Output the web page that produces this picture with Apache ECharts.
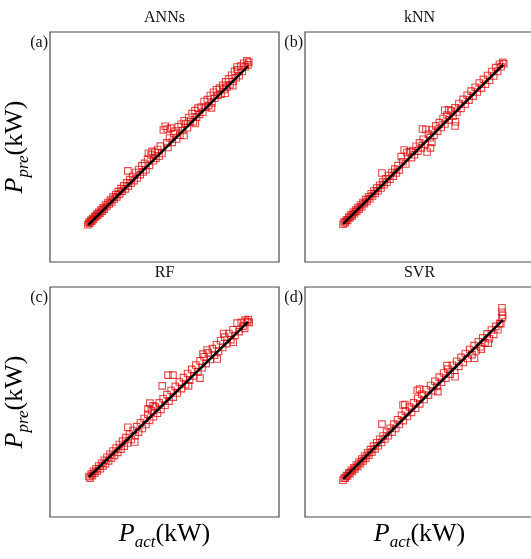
<!DOCTYPE html>
<html>
<head>
<meta charset="utf-8">
<script src="https://cdn.jsdelivr.net/npm/echarts@6/dist/echarts.min.js"></script>
<style>
  html, body { margin: 0; padding: 0; background: #fff; }
  #chart { width: 531px; height: 559px; }
</style>
</head>
<body>
<div id="chart"></div>
<script>
// panel titles and tags
const models = ['ANNs', 'kNN', 'RF', 'SVR']
const tags = ['(a)', '(b)', '(c)', '(d)']

// [P_act, P_pre] pairs (relative units, axis 0-100)
const annsData = [
  [16.5, 16.2], [17.0, 17.3], [17.4, 16.8], [17.8, 18.1], [18.2, 17.7], [18.6, 18.9], [19.0, 18.5], [19.5, 19.9],
  [20.0, 19.6], [20.4, 20.8], [20.9, 20.3], [21.3, 21.6], [21.8, 21.2], [22.3, 22.7], [22.8, 22.1], [23.2, 23.6],
  [23.7, 23.0], [24.2, 24.8], [24.8, 24.1], [25.3, 25.9], [25.9, 25.2], [26.4, 26.9], [27.0, 26.1], [27.5, 28.2],
  [28.1, 27.4], [28.7, 29.3], [29.2, 28.3], [29.8, 30.6], [30.4, 29.5], [31.0, 31.9], [31.6, 30.8], [32.2, 33.1],
  [32.9, 31.8], [33.5, 34.4], [34.0, 39.6], [34.2, 33.0], [34.9, 35.8], [35.5, 34.3], [36.1, 37.2], [36.8, 35.4],
  [37.5, 38.9], [38.1, 36.5], [38.8, 40.2], [39.4, 38.0], [40.1, 41.8], [40.7, 39.2], [41.3, 42.9], [41.9, 40.1],
  [42.6, 44.8], [43.0, 47.3], [43.4, 42.0], [44.1, 46.5], [44.6, 48.1], [45.2, 44.0], [45.8, 47.6], [46.3, 45.1],
  [47.0, 48.9], [47.6, 46.0], [48.2, 50.4], [48.9, 47.2], [49.5, 57.4], [50.3, 59.0], [51.2, 57.8], [51.0, 51.8],
  [51.5, 49.8], [52.2, 53.9], [52.8, 58.2], [53.4, 52.0], [54.0, 55.8], [54.6, 56.9], [55.3, 53.5], [56.0, 58.8],
  [56.7, 55.1], [57.3, 59.9], [58.0, 57.2], [58.5, 55.0], [58.6, 61.4], [59.3, 60.2], [60.0, 58.4], [60.6, 62.8],
  [61.3, 61.0], [62.0, 64.5], [62.6, 60.9], [63.3, 65.8], [63.5, 60.2], [64.0, 63.0], [64.6, 66.9], [65.3, 64.2],
  [66.0, 67.4], [66.7, 65.1], [67.3, 69.8], [68.0, 67.3], [68.7, 70.6], [69.3, 68.0], [70.0, 72.4], [70.5, 67.0],
  [70.7, 69.1], [71.4, 73.8], [72.0, 71.2], [72.7, 74.9], [73.4, 72.5], [74.0, 75.6], [74.7, 73.0], [75.4, 76.8],
  [76.0, 75.0], [76.5, 73.4], [76.7, 78.3], [77.3, 76.1], [78.0, 79.6], [78.6, 77.0], [79.3, 81.2], [79.8, 76.6],
  [80.0, 78.5], [80.6, 82.9], [81.3, 80.1], [81.6, 84.8], [82.0, 83.6], [82.6, 81.0], [83.3, 85.2], [84.0, 82.8],
  [84.6, 86.4], [85.3, 84.9], [86.0, 87.5], [86.5, 85.7], [86.8, 86.9]
]
const knnData = [
  [16.6, 16.4], [17.1, 17.5], [17.6, 17.0], [18.1, 18.4], [18.6, 18.1], [19.1, 19.5], [19.6, 19.1], [20.1, 20.5],
  [20.6, 20.0], [21.1, 21.6], [21.6, 21.0], [22.1, 22.6], [22.6, 22.0], [23.1, 23.7], [23.7, 23.0], [24.2, 24.8],
  [24.8, 24.0], [25.3, 25.9], [25.9, 25.3], [26.5, 27.1], [27.1, 26.3], [27.7, 28.4], [28.3, 27.5], [28.9, 29.7],
  [29.5, 28.7], [30.1, 30.9], [30.7, 29.8], [31.3, 32.2], [31.9, 31.0], [32.6, 33.4], [33.2, 32.2], [33.6, 38.7],
  [33.9, 34.8], [34.5, 33.6], [35.2, 36.2], [35.8, 34.7], [36.5, 37.6], [37.1, 36.0], [37.8, 38.9], [38.5, 37.3],
  [39.2, 40.4], [39.9, 38.7], [40.6, 41.9], [41.2, 40.0], [42.0, 45.8], [42.7, 43.6], [43.3, 48.7], [44.5, 47.6],
  [44.0, 42.6], [45.7, 47.9], [46.5, 45.4], [47.0, 48.5], [47.8, 46.6], [48.5, 50.3], [49.3, 48.2], [50.0, 51.8],
  [50.8, 49.6], [51.3, 57.8], [52.8, 57.6], [51.6, 53.4], [52.4, 51.2], [53.3, 47.8], [54.8, 49.6], [55.4, 52.0],
  [53.9, 55.6], [54.7, 54.0], [55.5, 57.4], [56.3, 55.1], [57.1, 59.2], [57.9, 56.9], [58.7, 60.6], [59.5, 58.5],
  [60.3, 62.4], [61.0, 66.0], [62.7, 66.2], [61.1, 60.0], [62.0, 63.9], [62.9, 61.8], [63.8, 65.7], [64.6, 63.4],
  [65.5, 59.1], [65.7, 61.0], [65.5, 67.0], [66.3, 65.2], [67.2, 68.9], [68.1, 66.8], [69.0, 70.7], [69.9, 68.6],
  [70.8, 72.5], [71.6, 70.4], [72.5, 74.3], [73.4, 72.1], [74.3, 76.0], [75.2, 73.9], [76.1, 77.8], [77.0, 75.6],
  [77.9, 79.4], [78.8, 77.3], [79.7, 81.1], [80.6, 79.0], [81.5, 82.8], [82.4, 80.9], [83.3, 84.5], [84.1, 82.8],
  [84.9, 86.0], [85.6, 84.9], [86.3, 86.8], [86.8, 86.2]
]
const rfData = [
  [17.0, 17.6], [17.5, 16.9], [18.0, 18.7], [18.5, 18.0], [19.0, 19.9], [19.6, 19.0], [20.1, 21.0], [20.7, 20.0],
  [21.3, 22.2], [21.9, 21.0], [22.5, 23.4], [23.1, 22.1], [23.7, 24.7], [24.3, 23.2], [24.9, 26.0], [25.6, 24.4],
  [26.2, 27.3], [26.9, 25.6], [27.5, 28.7], [28.2, 26.8], [28.9, 30.0], [29.6, 28.1], [30.3, 31.5], [31.0, 29.5],
  [31.7, 33.0], [32.4, 30.8], [33.1, 34.5], [34.0, 39.0], [33.9, 32.2], [34.7, 36.0], [35.5, 33.7], [36.3, 37.6],
  [37.0, 32.6], [37.1, 35.3], [37.9, 39.3], [38.7, 36.9], [39.5, 41.0], [40.3, 38.5], [41.1, 42.8], [41.9, 40.2],
  [42.8, 47.0], [43.6, 49.5], [45.0, 48.3], [42.7, 44.6], [43.5, 42.0], [44.3, 46.2], [45.2, 43.6], [46.0, 47.9],
  [46.9, 45.1], [47.7, 49.6], [48.5, 46.8], [49.0, 57.0], [49.4, 51.4], [50.2, 48.6], [51.5, 61.7], [53.7, 61.7],
  [51.1, 53.2], [52.0, 50.4], [52.9, 55.0], [53.8, 52.1], [54.7, 56.8], [55.6, 53.9], [56.5, 58.7], [57.4, 55.8],
  [58.3, 60.6], [59.2, 57.6], [60.1, 62.4], [60.5, 57.0], [61.0, 59.5], [61.9, 64.2], [62.8, 61.3], [63.7, 66.1],
  [64.6, 63.1], [65.5, 60.4], [65.5, 67.9], [66.4, 64.9], [66.8, 70.8], [67.3, 69.7], [68.6, 72.6], [68.2, 66.7],
  [69.1, 71.4], [70.0, 68.5], [70.9, 73.2], [71.8, 70.3], [72.7, 74.9], [73.0, 68.7], [73.6, 72.0], [74.5, 76.6],
  [75.4, 73.7], [75.8, 79.8], [76.3, 78.2], [77.2, 75.4], [78.1, 79.8], [79.0, 77.1], [80.0, 76.0], [79.9, 81.4],
  [80.8, 78.9], [81.7, 84.3], [82.6, 80.6], [83.5, 84.6], [84.3, 83.0], [85.0, 82.0], [85.2, 85.6], [86.0, 85.0],
  [86.6, 85.8], [87.0, 84.6]
]
const svrData = [
  [16.6, 16.0], [17.1, 16.9], [17.6, 16.9], [18.1, 18.0], [18.6, 17.8], [19.1, 19.2], [19.6, 18.8], [20.2, 20.3],
  [20.7, 19.8], [21.3, 21.4], [21.8, 20.9], [22.4, 22.6], [23.0, 22.0], [23.6, 23.9], [24.2, 23.2], [24.8, 25.2],
  [25.4, 24.4], [26.0, 26.5], [26.6, 25.6], [27.3, 27.9], [27.9, 26.9], [28.6, 29.3], [29.2, 28.2], [29.9, 30.8],
  [30.6, 29.6], [31.3, 32.3], [32.0, 31.0], [32.7, 33.8], [33.4, 32.4], [33.6, 40.4], [34.1, 35.2], [34.9, 33.9],
  [35.6, 36.9], [36.4, 35.3], [37.2, 38.6], [38.0, 36.9], [38.8, 40.4], [39.6, 38.5], [40.4, 42.3], [41.2, 40.2],
  [42.1, 44.2], [42.8, 48.7], [43.6, 48.9], [42.9, 41.9], [43.8, 46.0], [44.7, 43.7], [45.6, 47.8], [46.5, 45.5],
  [47.4, 49.6], [48.3, 47.3], [49.0, 55.0], [50.0, 55.6], [49.2, 51.5], [50.1, 49.2], [51.0, 53.4], [52.0, 51.1],
  [52.9, 55.3], [53.9, 53.0], [54.8, 57.2], [55.8, 54.9], [56.7, 59.0], [57.7, 56.8], [58.0, 54.5], [58.6, 60.8],
  [59.6, 58.6], [60.5, 62.6], [61.5, 60.4], [62.0, 65.8], [62.4, 64.3], [63.4, 62.1], [64.3, 66.0], [65.5, 61.0],
  [65.3, 63.8], [66.2, 67.7], [67.2, 65.5], [68.1, 69.4], [69.1, 67.2], [70.0, 71.1], [71.0, 68.9], [71.9, 72.8],
  [72.9, 70.6], [74.0, 69.0], [73.8, 74.5], [74.8, 72.3], [75.7, 76.2], [76.7, 74.0], [77.0, 73.0], [77.6, 77.9],
  [78.6, 75.7], [79.5, 79.6], [80.0, 75.6], [80.5, 77.5], [81.4, 81.3], [82.4, 79.4], [83.3, 82.9], [84.2, 81.4],
  [85.0, 84.2], [85.5, 84.0], [86.0, 86.5], [86.0, 89.0], [86.0, 91.0], [86.3, 87.6]
]
// fitted lines drawn over each panel, [P_act, P_pre] end points
const fitA = [[16.6, 16.0], [86.5, 85.2]]
const fitB = [[16.6, 16.5], [86.5, 85.8]]
const fitC = [[17.0, 17.4], [86.5, 84.8]]
const fitD = [[16.6, 16.5], [86.3, 85.6]]

const allData = [annsData, knnData, rfData, svrData]
const fits = [fitA, fitB, fitC, fitD]

const serif = '"Liberation Serif", "DejaVu Serif", serif'
const boxes = [
  { left: 50, top: 32 },
  { left: 305, top: 32 },
  { left: 50, top: 287 },
  { left: 305, top: 287 }
]

const chart = echarts.init(document.getElementById('chart'))

// right column runs past the window edge like the reference, so its right side is cut off
const grid = boxes.map((b, i) => ({
  left: b.left, top: b.top, width: i % 2 ? 235 : 229, height: 230,
  outerBoundsMode: 'none', containLabel: false,
  show: true, borderColor: '#4a4a4a', borderWidth: 1.2, backgroundColor: '#fff'
}))
const axisBase = { type: 'value', show: false, splitLine: { show: false } }
const xAxis = boxes.map((b, i) => Object.assign({ gridIndex: i, min: 0, max: i % 2 ? 102.6 : 100 }, axisBase))
const yAxis = boxes.map((b, i) => Object.assign({ gridIndex: i, min: 0, max: 100 }, axisBase))

const series = []
allData.forEach((d, i) => {
  series.push({
    type: 'scatter', xAxisIndex: i, yAxisIndex: i, data: d,
    symbol: 'rect', symbolSize: 6.5,
    itemStyle: { color: 'rgba(0,0,0,0)', borderColor: 'rgba(220,0,0,0.9)', borderWidth: 1.1 },
    silent: true, z: 2
  })
  series.push({
    type: 'line', xAxisIndex: i, yAxisIndex: i, data: fits[i],
    symbol: 'none', lineStyle: { color: '#000', width: 2.5 }, z: 3, silent: true
  })
})

const graphic = []
boxes.forEach((b, i) => {
  graphic.push({
    type: 'text', x: b.left + 114.5, y: b.top - 14,
    style: { text: models[i], font: '16px ' + serif, fill: '#111', align: 'center', verticalAlign: 'middle' }
  })
  graphic.push({
    type: 'text', x: b.left - 2, y: b.top + 11,
    style: { text: tags[i], font: '16px ' + serif, fill: '#111', align: 'right', verticalAlign: 'middle' }
  })
})
const richLabel = {
  p: { fontFamily: serif, fontStyle: 'italic', fontSize: 26, lineHeight: 26, verticalAlign: 'top', color: '#111' },
  s: { fontFamily: serif, fontStyle: 'italic', fontSize: 17, lineHeight: 44, color: '#111' },
  k: { fontFamily: serif, fontSize: 26, lineHeight: 26, verticalAlign: 'top', color: '#111' }
}
;[0, 2].forEach(i => {
  graphic.push({
    type: 'text', x: 24, y: boxes[i].top + 115, rotation: Math.PI / 2,
    style: { text: '{p|P}{s|pre}{k|(kW)}', rich: richLabel, align: 'center', verticalAlign: 'middle' }
  })
})
;[2, 3].forEach(i => {
  graphic.push({
    type: 'text', x: boxes[i].left + 114.5, y: 543,
    style: { text: '{p|P}{s|act}{k|(kW)}', rich: richLabel, align: 'center', verticalAlign: 'middle' }
  })
})

chart.setOption({
  animation: false,
  backgroundColor: '#fff',
  grid: grid,
  xAxis: xAxis,
  yAxis: yAxis,
  series: series,
  graphic: graphic
})
</script>
</body>
</html>
